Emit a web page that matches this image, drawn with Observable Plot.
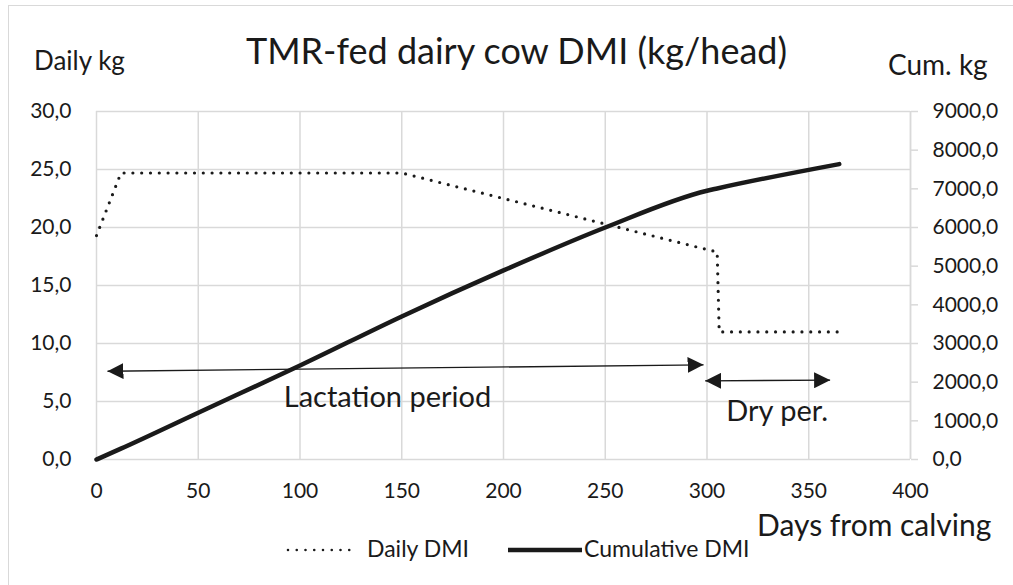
<!DOCTYPE html>
<html>
<head>
<meta charset="utf-8">
<script src="https://cdn.jsdelivr.net/npm/d3@7"></script>
<script src="https://cdn.jsdelivr.net/npm/@observablehq/plot@0.6"></script>
<style>
  html, body { margin: 0; padding: 0; background: #fff; }
  #wrap { position: relative; width: 1013px; height: 585px; overflow: hidden; font-family: Lato, "Open Sans", sans-serif; color: #1a1a1a; }
  #frame { position: absolute; left: 8px; top: 5px; width: 1100px; height: 700px; border: 1px solid #d9d9d9; box-sizing: border-box; }
  .lbl { position: absolute; white-space: nowrap; line-height: 1; }
  #wrap > svg { position: absolute; left: 0; top: 0; }
</style>
</head>
<body>
<div id="wrap">
  <div id="frame"></div>
  <div class="lbl" id="title" style="left:0;width:1033px;text-align:center;top:32px;font-size:36px;">TMR-fed dairy cow DMI (kg/head)</div>
  <div class="lbl" style="left:34px;top:47px;font-size:26px;">Daily kg</div>
  <div class="lbl" style="left:888px;top:50px;font-size:28px;">Cum. kg</div>
  <div class="lbl" style="left:757px;top:509px;font-size:30px;">Days from calving</div>
  <div id="legend" class="lbl" style="left:285px;top:537px;font-size:23px;display:flex;align-items:center;">
    <svg width="76" height="20"><line x1="3" y1="11" x2="73" y2="11" stroke="#1a1a1a" stroke-width="2.6" stroke-dasharray="0 8.75" stroke-linecap="round"/></svg>
    <span style="margin-left:6px;">Daily DMI</span>
    <svg width="74" height="20" style="margin-left:39px"><line x1="0" y1="11" x2="74" y2="11" stroke="#1a1a1a" stroke-width="4.5"/></svg>
    <span style="margin-left:2px;">Cumulative DMI</span>
  </div>
</div>
<script>
// ---- data ----
const dailyDays = [0, 12, 150, 200, 250, 300, 305, 306, 365];
const dailyKg   = [19.3, 24.7, 24.7, 22.5, 20.3, 18.1, 17.9, 11.0, 11.0];

const cumDays = [0, 12, 50, 100, 150, 200, 250, 300, 305, 365];
const cumKg   = [0, 280, 1210, 2430, 3700, 4890, 6000, 6950, 7010, 7640];

const xTicks     = [0, 50, 100, 150, 200, 250, 300, 350, 400];
const yLeftTicks = [0, 5, 10, 15, 20, 25, 30];
const yRightTicks = [0, 1000, 2000, 3000, 4000, 5000, 6000, 7000, 8000, 9000];
const rightMax = 9000, leftMax = 30;

// annotation arrows (day, daily-kg coordinates)
const arrowX1 = [5.4, 299.1];
const arrowY1 = [7.61, 6.78];
const arrowX2 = [298.3, 360.5];
const arrowY2 = [8.16, 6.84];

const noteText = ["Lactation period", "Dry per."];
const noteX = [143, 334.5];
const noteY = [5.35, 4.1];

// ---- tables for Plot ----
const daily = dailyDays.map((d, i) => ({day: d, kg: dailyKg[i]}));
const cum = cumDays.map((d, i) => ({day: d, kg: cumKg[i]}));
const arrows = arrowX1.map((x, i) => ({x1: x, y1: arrowY1[i], x2: arrowX2[i], y2: arrowY2[i]}));
const notes = noteText.map((t, i) => ({t, x: noteX[i], y: noteY[i]}));
const ratio = rightMax / leftMax;
const fmt = v => v.toFixed(1).replace(".", ",");
const grid = "#d9d9d9";
const ink = "#1a1a1a";

const chart = Plot.plot({
  width: 1013,
  height: 585,
  marginLeft: 96,
  marginRight: 103,
  marginTop: 111,
  marginBottom: 126,
  style: {fontFamily: "Lato, 'Open Sans', sans-serif", fontSize: "21px", color: ink, background: "transparent"},
  x: {domain: [0, 400]},
  y: {domain: [0, leftMax]},
  marks: [
    Plot.gridX(xTicks, {stroke: grid, strokeOpacity: 1, strokeWidth: 1.5}),
    Plot.gridY(yLeftTicks, {stroke: grid, strokeOpacity: 1, strokeWidth: 1.5}),
    Plot.axisX(xTicks, {tickSize: 0, tickPadding: 24, label: null, tickFormat: d => String(d), fill: ink}),
    Plot.axisY(yLeftTicks, {anchor: "left", tickSize: 0, tickPadding: 25, label: null, tickFormat: fmt, fill: ink}),
    Plot.axisY(yRightTicks.map(v => v / ratio), {anchor: "right", tickSize: 7, tickPadding: 15, label: null,
      tickFormat: v => fmt(Math.round(v * ratio)), stroke: grid, strokeWidth: 1.5, fill: ink}),
    Plot.ruleX([400], {stroke: grid, strokeWidth: 1.5}),
    Plot.line(cum, {x: "day", y: d => d.kg / ratio, stroke: ink, strokeWidth: 4.5, strokeLinejoin: "round", curve: "monotone-x"}),
    Plot.line(daily, {x: "day", y: "kg", stroke: ink, strokeWidth: 3.2, strokeDasharray: "0 8.8", strokeLinecap: "round", strokeLinejoin: "round"}),
    Plot.link(arrows, {x1: "x1", y1: "y1", x2: "x2", y2: "y2", stroke: ink, strokeWidth: 1.4}),
    Plot.text(notes, {x: "x", y: "y", text: "t", fontSize: 29, fill: ink, textAnchor: "middle", lineAnchor: "middle"})
  ]
});

// filled triangular arrowheads on both ends of each annotation arrow
const svg = d3.select(chart);
const defs = svg.insert("defs", ":first-child");
defs.append("marker")
  .attr("id", "tri")
  .attr("viewBox", "0 0 10 10")
  .attr("refX", 10).attr("refY", 5)
  .attr("markerUnits", "userSpaceOnUse")
  .attr("markerWidth", 16).attr("markerHeight", 16)
  .attr("orient", "auto-start-reverse")
  .append("path").attr("d", "M0,0L10,5L0,10Z").attr("fill", ink);
svg.selectAll("g[aria-label=link] path")
  .attr("marker-start", "url(#tri)")
  .attr("marker-end", "url(#tri)");

document.getElementById("wrap").appendChild(chart);
</script>
</body>
</html>
